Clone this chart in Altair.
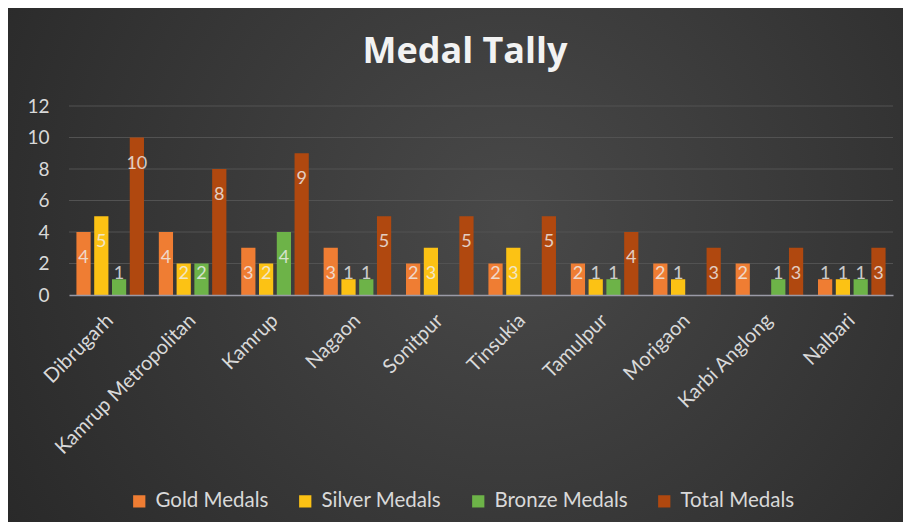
import altair as alt
import pandas as pd

districts = ["Dibrugarh", "Kamrup Metropolitan", "Kamrup", "Nagaon", "Sonitpur",
             "Tinsukia", "Tamulpur", "Morigaon", "Karbi Anglong", "Nalbari"]
gold = [4, 4, 3, 3, 2, 2, 2, 2, 2, 1]
silver = [5, 2, 2, 1, 3, 3, 1, 1, 0, 1]
bronze = [1, 2, 4, 1, 0, 0, 1, 0, 1, 1]
total = [10, 8, 9, 5, 5, 5, 4, 3, 3, 3]
y_ticks = [0, 2, 4, 6, 8, 10, 12]

series = ["Gold Medals", "Silver Medals", "Bronze Medals", "Total Medals"]
colors = ["#ef7d33", "#fcc214", "#6db348", "#b0480f"]

rows = []
for i, d in enumerate(districts):
    for s, vals in zip(series, [gold, silver, bronze, total]):
        rows.append({"District": d, "Series": s, "Value": vals[i]})
df = pd.DataFrame(rows)

FONT = "Lato"
W, H = 824, 189
PAD = {"left": 61, "top": 98, "right": 10, "bottom": 227}

# decorative radial-gradient backdrop covering the whole chart canvas
backdrop = alt.Chart(pd.DataFrame({"k": [0]})).mark_rect(
    color=alt.Gradient(gradient="radial", x1=0.56, y1=0.45, r1=0,
                       x2=0.56, y2=0.45, r2=0.72,
                       stops=[alt.GradientStop(offset=0, color="#494949"),
                              alt.GradientStop(offset=1, color="#262626")])
).encode(
    x=alt.value(-PAD["left"]), x2=alt.value(W + PAD["right"]),
    y=alt.value(-PAD["top"]), y2=alt.value(H + PAD["bottom"]),
)

yscale = alt.Scale(domain=[0, 12])
yaxis = alt.Axis(values=y_ticks, labelFontSize=19, labelColor="#d9d9d9",
                 labelFont=FONT, ticks=False, domain=False, grid=False,
                 labelPadding=20, labelOverlap=False, labelFlush=False,
                 labelBound=False, zindex=1)

grid = alt.Chart(pd.DataFrame({"t": y_ticks[1:]})).mark_rule(
    color="#525252", strokeWidth=1
).encode(y=alt.Y("t:Q", scale=yscale, axis=yaxis, title=None))

xaxis = alt.Axis(labelAngle=-45, labelAlign="right", labelBaseline="middle",
                 labelFontSize=20, labelColor="#d9d9d9", labelFont=FONT,
                 ticks=False, domainColor="#9a9aa6", domainWidth=1.5,
                 labelPadding=22, grid=False, labelOverlap=False,
                 labelLimit=400, zindex=1)
xscale = alt.Scale(paddingInner=0.18, paddingOuter=0.09)
xoscale = alt.Scale(paddingInner=0.2, paddingOuter=0)

bars = alt.Chart(df).mark_bar().encode(
    x=alt.X("District:N", sort=districts, title=None, scale=xscale, axis=xaxis),
    xOffset=alt.XOffset("Series:N", sort=series, scale=xoscale),
    y=alt.Y("Value:Q", title=None, scale=yscale, axis=yaxis),
    color=alt.Color("Series:N", sort=series,
                    scale=alt.Scale(domain=series, range=colors),
                    legend=alt.Legend(title=None, orient="none", legendX=60, legendY=385,
                                      direction="horizontal", symbolType="square",
                                      symbolSize=150, symbolStrokeWidth=0,
                                      labelFontSize=20.5, labelColor="#d9d9d9",
                                      labelFont=FONT, columnPadding=26, labelOffset=6)),
)

labels = alt.Chart(df).transform_filter("datum.Value > 0").transform_calculate(
    LabelY="max(datum.Value, 3)"
).mark_text(fontSize=18, font=FONT, color="#f0f0f0", opacity=0.8,
            baseline="middle", align="center", dy=26).encode(
    x=alt.X("District:N", sort=districts, title=None, scale=xscale, axis=xaxis),
    xOffset=alt.XOffset("Series:N", sort=series, scale=xoscale),
    y=alt.Y("LabelY:Q", title=None, scale=yscale, axis=yaxis),
    text=alt.Text("Value:Q"),
)

chart = alt.layer(backdrop, grid, bars, labels).properties(
    width=W, height=H,
    title=alt.Title("Medal Tally", fontSize=36, font="Open Sans", fontWeight="bold",
                    color="#f2f2f2", anchor="middle", offset=-91, dx=-16,
                    baseline="alphabetic"),
    background="#2c2c2c",
    padding=PAD,
    autosize=alt.AutoSizeParams(type="none"),
).configure_view(stroke=None).configure_axis(labelOverlap=False)

chart.save("out.html", embed_options={"renderer": "svg", "actions": False})
